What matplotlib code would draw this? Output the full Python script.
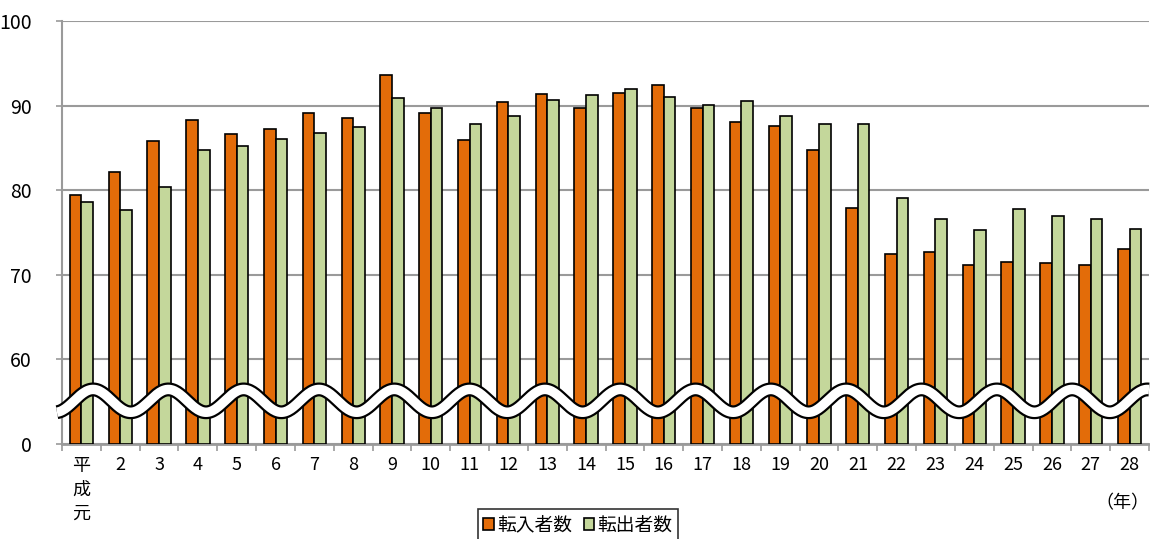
import numpy as np
import matplotlib
matplotlib.use("Agg")
import matplotlib.pyplot as plt
from matplotlib.patches import Patch

plt.rcParams["font.family"] = ["Noto Sans CJK JP", "DejaVu Sans"]

# データ（単位：千人）
years = ["平\n成\n元"] + [str(i) for i in range(2, 29)]
tennyu = [79.4, 82.1, 85.8, 88.3, 86.7, 87.2, 89.1, 88.5, 93.6, 89.1,
          85.9, 90.4, 91.4, 89.7, 91.5, 92.4, 89.7, 88.1, 87.6, 84.7,
          77.9, 72.4, 72.7, 71.2, 71.5, 71.4, 71.2, 73.1]
tenshutsu = [78.6, 77.7, 80.4, 84.8, 85.2, 86.1, 86.8, 87.5, 90.9, 89.7,
             87.8, 88.8, 90.7, 91.3, 92.0, 91.0, 90.1, 90.5, 88.8, 87.8,
             87.8, 79.1, 76.6, 75.3, 77.8, 77.0, 76.6, 75.4]
yticks = [50, 60, 70, 80, 90, 100]
ylabels = ["0", "60", "70", "80", "90", "100"]

c_in = "#E36C09"
c_out = "#C4D79B"
grid_c = "#9a9a9a"

fig = plt.figure(figsize=(11.5, 5.39), dpi=100)
ax = fig.add_axes([62 / 1150, 1 - 444 / 539, 1 - 63 / 1150, (444 - 21) / 539])

x = np.arange(len(years))
w = 0.3
ax.bar(x - w / 2, tennyu, w, bottom=50, color=c_in, edgecolor="black", linewidth=1.2, zorder=3)
ax.bar(x + w / 2, tenshutsu, w, bottom=50, color=c_out, edgecolor="black", linewidth=1.2, zorder=3)
# bottom=50 なので高さを調整
for p in ax.patches:
    p.set_height(p.get_height() - 50)

ax.set_xlim(-0.5, len(years) - 0.5)
ax.set_ylim(50, 100)
ax.set_yticks(yticks)
ax.set_yticklabels(ylabels)
ax.yaxis.grid(True, color=grid_c, linewidth=1.5, zorder=0)
ax.set_axisbelow(True)

ax.set_xticks(x)
ax.set_xticklabels(years, linespacing=1.45, va="top")
ax.set_xticks(np.arange(-0.5, len(years)), minor=True)
ax.tick_params(axis="x", which="major", length=0, pad=9, labelsize=13)
ax.tick_params(axis="x", which="minor", length=5, color=grid_c, width=1.2)
ax.tick_params(axis="y", length=4, color=grid_c, width=1.2, pad=18, labelsize=14)

for s in ["top", "right"]:
    ax.spines[s].set_visible(False)
ax.spines["left"].set_color(grid_c)
ax.spines["left"].set_linewidth(1.5)
ax.spines["bottom"].set_color(grid_c)
ax.spines["bottom"].set_linewidth(2)

# 省略記号（波線）
wx = np.linspace(-0.63, len(years) - 0.5, 800)
wy = 55.1 + 1.35 * np.cos(2 * np.pi * (wx - 0.30) / 1.94)
ax.plot(wx, wy, color="black", linewidth=10, zorder=5, clip_on=False,
        solid_capstyle="butt")
ax.plot(wx, wy, color="white", linewidth=6.8, zorder=6, clip_on=False,
        solid_capstyle="butt")

fig.text(1122 / 1150, 1 - 503 / 539, "（年）", ha="center", va="center", fontsize=13)

handles = [Patch(facecolor=c_in, edgecolor="black", linewidth=1.2, label="転入者数"),
           Patch(facecolor=c_out, edgecolor="black", linewidth=1.2, label="転出者数")]
leg = fig.legend(handles=handles, loc="upper center", bbox_to_anchor=(578 / 1150, 1 - 509 / 539),
                 ncol=2, fontsize=13.5, frameon=True, fancybox=False, edgecolor="black",
                 handlelength=0.55, handleheight=0.55, handletextpad=0.2, columnspacing=0.6,
                 borderpad=0.3, borderaxespad=0)
leg.get_frame().set_linewidth(1.2)

fig.savefig("out.png", dpi=100)
